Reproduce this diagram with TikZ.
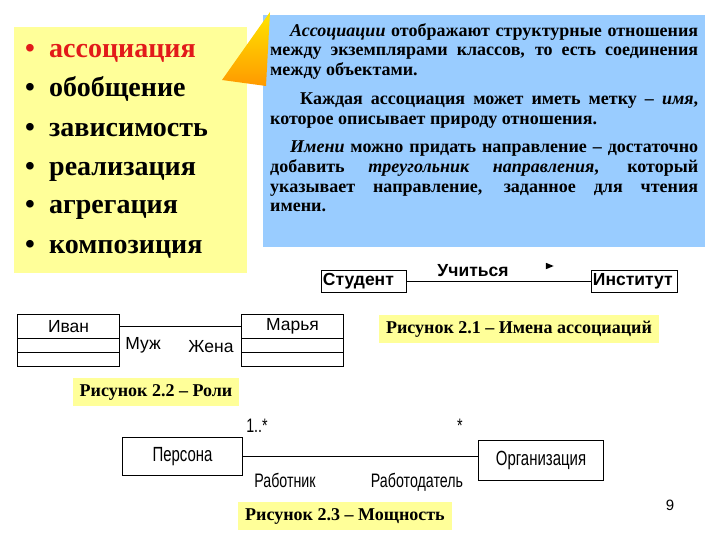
\documentclass[tikz,border=0pt]{standalone}
\usepackage{fontspec}
\setmainfont{Liberation Serif}
\setsansfont{Liberation Sans}
\newfontfamily\narrowsans[FakeStretch=0.73]{Liberation Sans}
\usetikzlibrary{shapes.geometric}
\definecolor{noteyellow}{HTML}{FFFF99}
\definecolor{noteblue}{HTML}{99CCFF}
\definecolor{itemred}{HTML}{E21A1A}
\definecolor{tipyellow}{HTML}{FFE600}
\definecolor{tiporange}{HTML}{FF9900}

\begin{document}
\begin{tikzpicture}[x=1pt,y=-1pt]
\tikzstyle{panel}=[anchor=north west,inner sep=0pt];
\tikzstyle{item}=[anchor=base west,inner sep=0pt,font=\bfseries\fontsize{28}{32}\selectfont];
\tikzstyle{cls}=[draw,line width=0.9pt,anchor=north west,inner xsep=1.5pt,inner ysep=0pt,minimum height=22pt,align=left,font=\sffamily\bfseries\fontsize{17.5}{20}\selectfont];
\tikzstyle{part}=[draw,line width=1.1pt,anchor=north west,inner sep=0pt,minimum width=102pt,font=\sffamily\fontsize{17.5}{20}\selectfont];
\tikzstyle{role}=[inner sep=0pt,font=\sffamily\fontsize{17.5}{20}\selectfont];
\tikzstyle{obj}=[draw,line width=1pt,anchor=north west,inner sep=0pt,font=\narrowsans\fontsize{20.5}{24}\selectfont];
\tikzstyle{mult}=[inner sep=0pt,font=\narrowsans\fontsize{19.5}{24}\selectfont];
\tikzstyle{figcap}=[fill=noteyellow,inner xsep=7pt,minimum height=28pt,font=\bfseries\fontsize{18}{21}\selectfont];
\useasboundingbox (0,0) rectangle (720,540);

% panels
\node [panel,fill=noteyellow,minimum width=233pt,minimum height=246pt] (list) at (14,27) {};
\node [panel,fill=noteblue,minimum width=442pt,minimum height=232pt] (note) at (263,15) {};
\shade [top color=tipyellow,bottom color=tiporange] (222,80) -- (270,12) -- (266,86) -- cycle;

% list of relations
\node [item,text=itemred] (i1) at (25,58) {\makebox[24pt][l]{\textbullet}ассоциация};
\node [item] (i2) at (25,97) {\makebox[24pt][l]{\textbullet}обобщение};
\node [item] (i3) at (25,137) {\makebox[24pt][l]{\textbullet}зависимость};
\node [item] (i4) at (25,176) {\makebox[24pt][l]{\textbullet}реализация};
\node [item] (i5) at (25,214) {\makebox[24pt][l]{\textbullet}агрегация};
\node [item] (i6) at (25,253) {\makebox[24pt][l]{\textbullet}композиция};

% text
\node [panel,text width=428pt,align=justify,font=\bfseries\fontsize{18}{19.8}\selectfont] (txt) at (270,23) {%
\hyphenpenalty=10000
\hspace*{20pt}\textit{Ассоциации} отображают структурные отношения\linebreak
между экземплярами классов, то есть соединения\linebreak
между объектами.\par\vspace{9pt}
\hspace*{30pt}Каждая ассоциация может иметь метку -- \textit{имя},\linebreak
которое описывает природу отношения.\par\vspace{8.5pt}
\hspace*{20pt}\textit{Имени} можно придать направление -- достаточно\linebreak
добавить \textit{треугольник направления}, который\linebreak
указывает направление, заданное для чтения\linebreak
имени.};

% fig 2.1
\node [cls,text width=82pt] (stud) at (321,270) {Студент};
\node [cls,text width=83pt] (inst) at (591,270) {Институт};
\draw [line width=0.8pt] (stud) -- (inst);
\node [inner sep=0pt,font=\sffamily\bfseries\fontsize{17.5}{20}\selectfont] (name) at (473,271) {Учиться};
\node [isosceles triangle,fill,inner sep=0pt,minimum size=6.5pt] (dir) at (548,266) {};
\node [figcap] (c1) at (519,329) {Рисунок 2.1 -- Имена ассоциаций};

% fig 2.2
\node [part,minimum height=24pt] (ivan) at (17,314) {Иван};
\node [part,minimum height=14pt] (ivan2) at (17,338) {};
\node [part,minimum height=14pt] (ivan3) at (17,352) {};
\node [part,minimum height=24pt] (marya) at (241,314) {Марья};
\node [part,minimum height=14pt] (marya2) at (241,338) {};
\node [part,minimum height=14pt] (marya3) at (241,352) {};
\draw [line width=1.1pt] (ivan) -- (marya);
\node [role] (husb) at (143,345) {Муж};
\node [role] (wife) at (211,347) {Жена};
\node [figcap] (c2) at (156,392) {Рисунок 2.2 -- Роли};

% fig 2.3
\node [obj,minimum width=120pt,minimum height=38pt] (pers) at (122,437) {Персона};
\node [obj,minimum width=125pt,minimum height=40pt] (org) at (478,440) {Организация};
\draw [line width=1pt] (pers.east) -- (org.west |- pers.east);
\node [mult] (m1) at (257,426) {1..*};
\node [mult] (m2) at (460,426) {*};
\node [mult] (r1) at (285,480) {Работник};
\node [mult] (r2) at (417,482) {Работодатель};
\node [figcap] (c3) at (345,516) {Рисунок 2.3 -- Мощность};

\node [inner sep=0pt,font=\sffamily\fontsize{15}{18}\selectfont] (page) at (670,505) {9};
\end{tikzpicture}
\end{document}
